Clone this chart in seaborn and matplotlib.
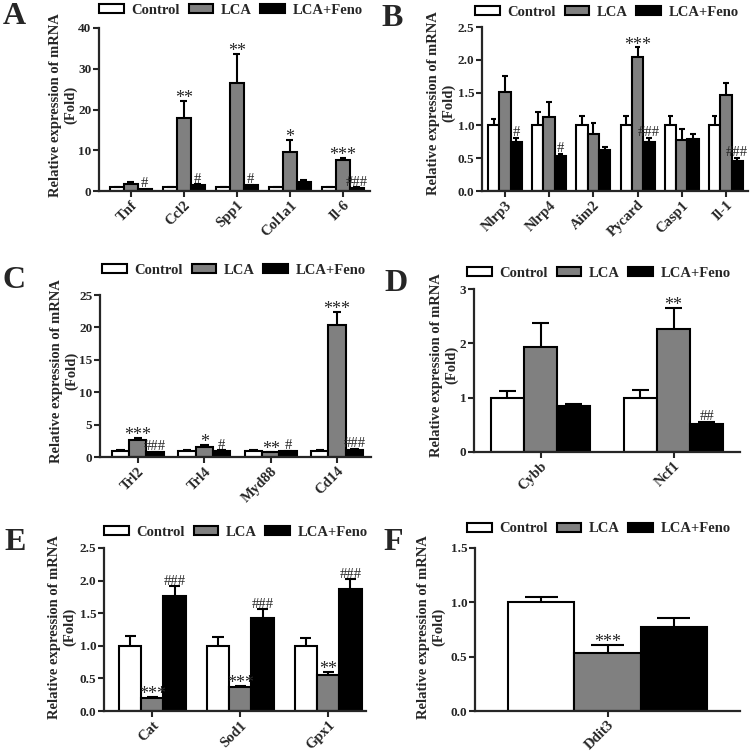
import numpy as np
import pandas as pd
import matplotlib
matplotlib.use('Agg')
import matplotlib.pyplot as plt
import seaborn as sns

sns.set_style('ticks')
plt.rcParams['font.family'] = ['Liberation Serif', 'DejaVu Serif']
plt.rcParams['font.weight'] = 'bold'

GROUPS = ['Control', 'LCA', 'LCA+Feno']
COLORS = ['#ffffff', '#808080', '#000000']

# ---- data ----
# A
A_genes = ['Tnf', 'Ccl2', 'Spp1', 'Col1a1', 'Il-6']
A_ctrl = [1.0, 1.0, 1.0, 1.0, 1.0]
A_ctrl_err = [0.1, 0.1, 0.1, 0.1, 0.1]
A_lca = [1.8, 17.8, 26.5, 9.6, 7.7]
A_lca_err = [0.5, 4.3, 7.1, 3.0, 0.5]
A_feno = [0.5, 1.5, 1.4, 2.3, 0.8]
A_feno_err = [0.0, 0.1, 0.1, 0.3, 0.1]
A_lca_sig = ['', '**', '**', '*', '***']
A_feno_sig = ['#', '#', '#', '', '###']

# B
B_genes = ['Nlrp3', 'Nlrp4', 'Aim2', 'Pycard', 'Casp1', 'Il-1']
B_ctrl = [1.0, 1.0, 1.0, 1.0, 1.0, 1.0]
B_ctrl_err = [0.09, 0.2, 0.14, 0.14, 0.14, 0.15]
B_lca = [1.51, 1.13, 0.87, 2.04, 0.78, 1.46]
B_lca_err = [0.24, 0.22, 0.17, 0.15, 0.17, 0.18]
B_feno = [0.75, 0.53, 0.63, 0.75, 0.80, 0.45]
B_feno_err = [0.06, 0.04, 0.04, 0.06, 0.07, 0.06]
B_lca_sig = ['', '', '', '***', '', '']
B_feno_sig = ['#', '#', '', '###', '', '###']

# C
C_genes = ['Trl2', 'Trl4', 'Myd88', 'Cd14']
C_ctrl = [1.0, 1.0, 1.0, 1.0]
C_ctrl_err = [0.15, 0.15, 0.1, 0.15]
C_lca = [2.7, 1.6, 0.75, 20.4]
C_lca_err = [0.2, 0.25, 0.05, 2.0]
C_feno = [0.75, 0.95, 0.95, 1.1]
C_feno_err = [0.05, 0.1, 0.05, 0.2]
C_lca_sig = ['***', '*', '**', '***']
C_feno_sig = ['###', '#', '#', '###']

# D
D_genes = ['Cybb', 'Ncf1']
D_ctrl = [1.0, 1.0]
D_ctrl_err = [0.12, 0.14]
D_lca = [1.93, 2.27]
D_lca_err = [0.45, 0.38]
D_feno = [0.84, 0.52]
D_feno_err = [0.05, 0.04]
D_lca_sig = ['', '**']
D_feno_sig = ['', '##']

# E
E_genes = ['Cat', 'Sod1', 'Gpx1']
E_ctrl = [1.0, 1.0, 1.0]
E_ctrl_err = [0.15, 0.13, 0.12]
E_lca = [0.2, 0.37, 0.55]
E_lca_err = [0.02, 0.02, 0.05]
E_feno = [1.77, 1.42, 1.87]
E_feno_err = [0.14, 0.14, 0.15]
E_lca_sig = ['***', '***', '**']
E_feno_sig = ['###', '###', '###']

# F
F_genes = ['Ddit3']
F_ctrl = [1.0]
F_ctrl_err = [0.05]
F_lca = [0.53]
F_lca_err = [0.08]
F_feno = [0.77]
F_feno_err = [0.09]
F_lca_sig = ['***']
F_feno_sig = ['']

W = 756.0
FS = 10.5
TFS = 9.5
fig = plt.figure(figsize=(7.56, 7.56), dpi=100)


def px_axes(left, right, top, bottom):
    return fig.add_axes([left / W, 1 - bottom / W, (right - left) / W, (bottom - top) / W])


def panel(ax, genes, ctrl, ctrl_err, lca, lca_err, feno, feno_err, lca_sig, feno_sig,
          ymax, ystep, fmt, xlim, width, letter, letter_xy, leg_xy, lab_xy):
    df = pd.DataFrame({
        'gene': genes * 3,
        'group': [g for g in GROUPS for _ in genes],
        'value': ctrl + lca + feno,
    })
    sns.barplot(data=df, x='gene', y='value', hue='group', hue_order=GROUPS, order=genes,
                palette=COLORS, edgecolor='black', linewidth=1.5, width=width,
                errorbar=None, ax=ax)
    errs = [ctrl_err, lca_err, feno_err]
    sigs = [[''] * len(genes), lca_sig, feno_sig]
    for i, cont in enumerate(ax.containers):
        for j, bar in enumerate(cont):
            x = bar.get_x() + bar.get_width() / 2
            h = bar.get_height()
            e = errs[i][j]
            hw = bar.get_width() / 4
            if e > 0:
                ax.vlines(x, h, h + e, color='black', lw=1.5, zorder=1)
                ax.hlines(h + e, x - hw, x + hw, color='black', lw=1.5, zorder=1)
            s = sigs[i][j]
            if s:
                star = s.startswith('*')
                ax.annotate(s, (x, h + e), xytext=(0, -4.5 if star else -1),
                            textcoords='offset points', ha='center', va='bottom',
                            fontsize=13 if star else 10.5, fontweight='normal')
    ax.set_xlim(*xlim)
    ax.set_ylim(0, ymax)
    ticks = np.arange(0, ymax + ystep / 2, ystep)
    ax.set_yticks(ticks)
    ax.set_yticklabels([fmt.format(t) for t in ticks], fontsize=TFS, fontweight='bold')
    ax.set_xticks(range(len(genes)))
    ax.set_xticklabels(genes, rotation=45, ha='right', rotation_mode='anchor',
                       fontsize=FS, fontweight='bold')
    ax.set_xlabel('')
    ax.set_ylabel('')
    fig.text(lab_xy[0] / W, 1 - lab_xy[1] / W, 'Relative expression of mRNA\n(Fold)',
             rotation=90, ha='center', va='center', multialignment='center',
             fontsize=FS, fontweight='bold', linespacing=1.15)
    for s in ['top', 'right']:
        ax.spines[s].set_visible(False)
    for s in ['left', 'bottom']:
        ax.spines[s].set_linewidth(1.6)
    ax.tick_params(axis='both', width=1.5, length=4, direction='out', pad=1.5)
    handles, labels = ax.get_legend_handles_labels()
    ax.legend(handles, labels, loc='center', bbox_to_anchor=(leg_xy[0] / W, 1 - leg_xy[1] / W),
              bbox_transform=fig.transFigure, ncol=3, frameon=False,
              prop={'size': FS, 'weight': 'bold'}, handlelength=1.7, handleheight=0.55,
              columnspacing=0.6, handletextpad=0.5, borderaxespad=0)
    fig.text(letter_xy[0] / W, 1 - letter_xy[1] / W, letter, fontsize=23, fontweight='bold',
             ha='left', va='center')


axA = px_axes(99, 370, 28, 191)
panel(axA, A_genes, A_ctrl, A_ctrl_err, A_lca, A_lca_err, A_feno, A_feno_err, A_lca_sig, A_feno_sig,
      40, 10, '{:.0f}', (-0.6, 4.51), 0.78, 'A', (3, 17), (231, 10), (63, 105))

axB = px_axes(482, 748, 27, 191)
panel(axB, B_genes, B_ctrl, B_ctrl_err, B_lca, B_lca_err, B_feno, B_feno_err, B_lca_sig, B_feno_sig,
      2.5, 0.5, '{:.1f}', (-0.52, 5.5), 0.77, 'B', (381, 19), (607, 12), (441, 103))

axC = px_axes(100, 371, 295, 457)
panel(axC, C_genes, C_ctrl, C_ctrl_err, C_lca, C_lca_err, C_feno, C_feno_err, C_lca_sig, C_feno_sig,
      25, 5, '{:.0f}', (-0.57, 3.51), 0.78, 'C', (3, 280), (234, 270), (64, 371))

axD = px_axes(474, 740, 289, 452)
panel(axD, D_genes, D_ctrl, D_ctrl_err, D_lca, D_lca_err, D_feno, D_feno_err, D_lca_sig, D_feno_sig,
      3, 1, '{:.0f}', (-0.5, 1.5), 0.75, 'D', (384, 283), (599, 273), (444, 365))

axE = px_axes(104, 366, 548, 711)
panel(axE, E_genes, E_ctrl, E_ctrl_err, E_lca, E_lca_err, E_feno, E_feno_err, E_lca_sig, E_feno_sig,
      2.5, 0.5, '{:.1f}', (-0.55, 2.43), 0.76, 'E', (4, 543), (236, 532), (62, 627))

axF = px_axes(475, 740, 548, 711)
panel(axF, F_genes, F_ctrl, F_ctrl_err, F_lca, F_lca_err, F_feno, F_feno_err, F_lca_sig, F_feno_sig,
      1.5, 0.5, '{:.1f}', (-0.5, 0.5), 0.75, 'F', (383, 542), (599, 529), (431, 627))

fig.savefig('out.png', dpi=100)
